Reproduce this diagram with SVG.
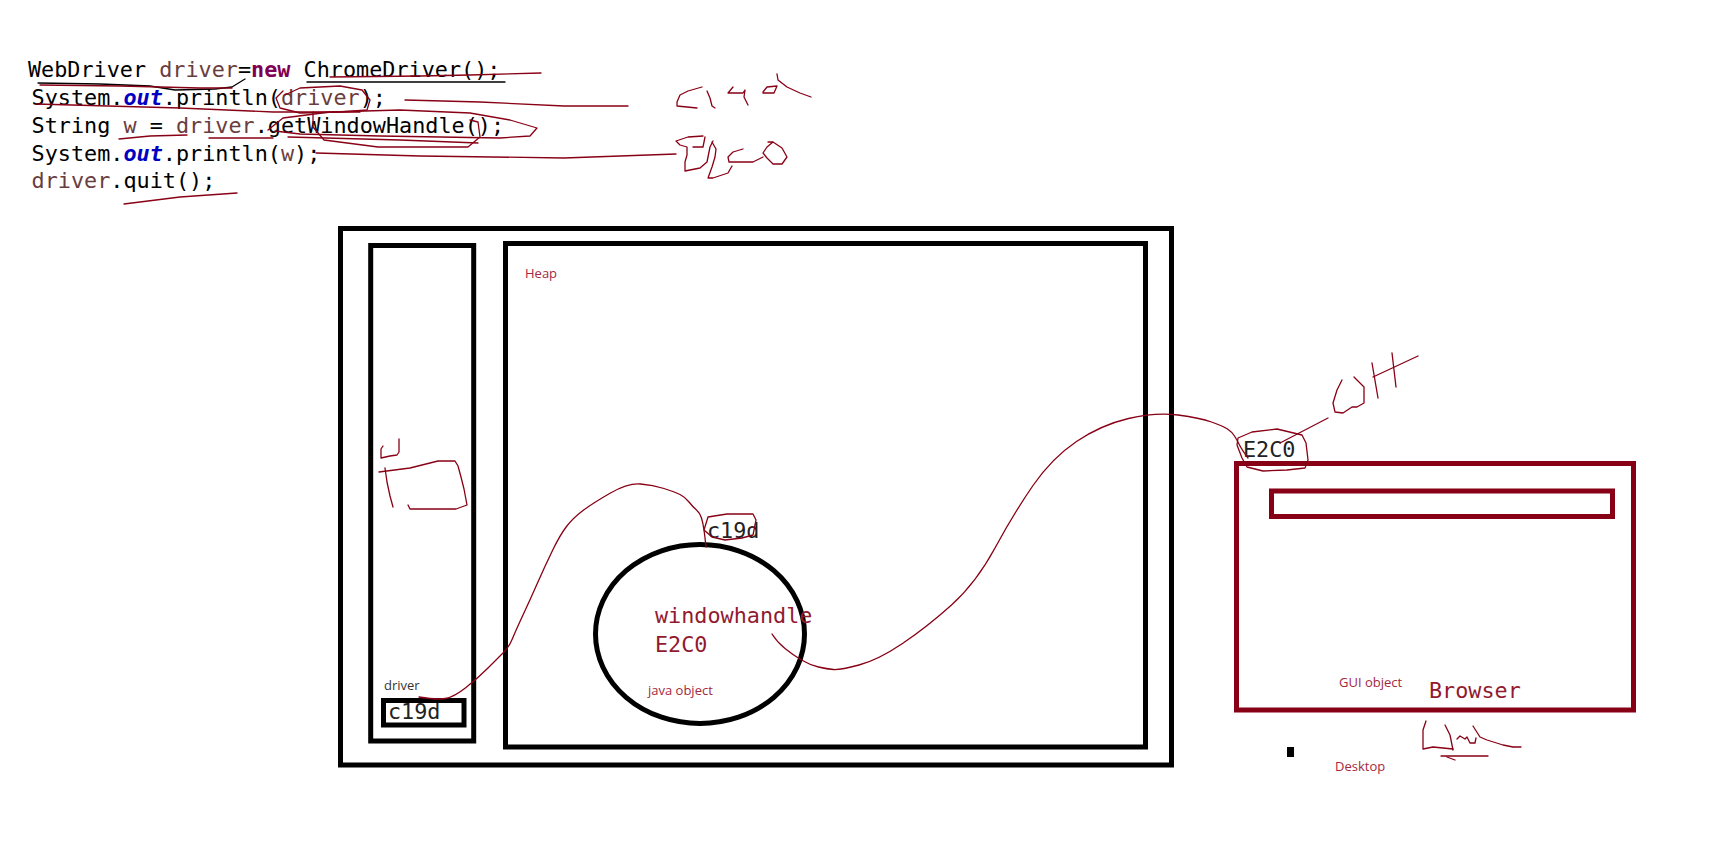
<svg xmlns="http://www.w3.org/2000/svg" width="1710" height="854" viewBox="0 0 1710 854">
<style>
.code{font-family:"DejaVu Sans Mono","Liberation Mono",monospace;font-size:21.8px;fill:#000;white-space:pre}
.var{fill:#6a3e3e}
.kw{fill:#7f0055;font-weight:bold}
.fld{fill:#0000c0;font-weight:bold;font-style:italic}
.mono{font-family:"DejaVu Sans Mono","Liberation Mono",monospace;font-size:21.8px;fill:#222}
.monored{font-family:"DejaVu Sans Mono","Liberation Mono",monospace;font-size:21.8px;fill:#921a30}
.lbl{font-family:"Open Sans","Noto Sans",sans-serif;font-size:13px;fill:#a3283e}
.lblg{font-family:"Open Sans","Noto Sans",sans-serif;font-size:13px;fill:#333}
.box{fill:none;stroke:#000;stroke-width:5}
.rbox{fill:none;stroke:#880015;stroke-width:5}
.ink{fill:none;stroke:#880015;stroke-width:1.3;stroke-linejoin:round;stroke-linecap:round}
.inkb{fill:none;stroke:#000;stroke-width:1.3;stroke-linejoin:round;stroke-linecap:round}
</style>
<rect width="1710" height="854" fill="#fff"/>
<g id="code">
<text class="code" x="28" y="77">WebDriver <tspan class="var">driver</tspan>=<tspan class="kw">new</tspan> ChromeDriver();</text>
<text class="code" x="31.6" y="105">System.<tspan class="fld">out</tspan>.println(<tspan class="var">driver</tspan>);</text>
<text class="code" x="31.6" y="133">String <tspan class="var">w</tspan> = <tspan class="var">driver</tspan>.getWindowHandle();</text>
<text class="code" x="31.6" y="161">System.<tspan class="fld">out</tspan>.println(<tspan class="var">w</tspan>);</text>
<text class="code" x="31.6" y="188"><tspan class="var">driver</tspan>.quit();</text>
</g>
<g id="outer"><rect class="box" x="340.5" y="228.5" width="831" height="536.5"/></g>
<g id="stack"><rect class="box" x="370.7" y="245.5" width="103" height="495.5" stroke-width="4.6"/></g>
<g id="heap"><rect class="box" x="505.5" y="243.5" width="640" height="503.5" stroke-width="4.6"/>
<text class="lbl" x="525" y="278" font-size="12.5">Heap</text></g>
<g id="driver-ref"><rect class="box" x="383.5" y="700.5" width="80.5" height="24.5"/>
<text class="lblg" x="384" y="690">driver</text>
<text class="mono" x="388" y="719">c19d</text></g>
<g id="java-object"><ellipse class="box" cx="700" cy="634" rx="104.5" ry="89.5"/>
<text class="monored" x="655" y="623">windowhandle</text>
<text class="monored" x="655" y="651.7">E2C0</text>
<text class="lbl" x="648" y="695">java object</text>
<text class="mono" x="707" y="538">c19d</text></g>
<g id="browser"><rect class="rbox" x="1236.5" y="463.5" width="397" height="246.5"/>
<rect class="rbox" x="1271.5" y="491" width="341" height="25.5"/>
<text class="lbl" x="1339" y="687">GUI object</text>
<text class="monored" x="1429" y="698">Browser</text>
<text class="mono" x="1243" y="457">E2C0</text></g>
<g id="desktop"><rect x="1287" y="747" width="7" height="10" fill="#000"/>
<text class="lbl" x="1335" y="771">Desktop</text></g>
<g id="connectors">
<path class="ink" d="M419,697 Q437,700 445.5,698.5 Q454,697 466,687.5 Q478,678 488.5,667.5 Q499,657 504,652 Q509,647 512.5,638.5 Q516,630 523,615 Q530,600 537.5,583 Q545,566 552.5,550.5 Q560,535 566.5,526.5 Q573,518 583,510.5 Q593,503 610.5,493 Q628,483 640.5,484 Q653,485 664,488.5 Q675,492 680,494.5 Q685,497 689,502 Q693,507 696.5,510 Q700,513 701.5,518 Q703,523 704,530 Q705,537 706,547"/>
<polyline class="ink" points="704,530 708,517 727,514 753,514 756,520 753,535 742,538 725,540 712,537 704,530"/>
<path class="ink" d="M772,634 Q777,642 785,648.5 Q793,655 801.5,660 Q810,665 818.5,667 Q827,669 833.5,669.5 Q840,670 859,665 Q878,660 902.5,643.5 Q927,627 951.5,605 Q976,583 995,548 Q1014,513 1033,485.5 Q1052,458 1076.5,441.5 Q1101,425 1128.5,418.5 Q1156,412 1178,415 Q1200,418 1211.5,422 Q1223,426 1227.5,429 Q1232,432 1234.5,436 Q1237,440 1239.5,445 Q1242,450 1248,458"/>
<polyline class="ink" points="1237,445 1238,438 1252,432 1277,429 1302,435 1306,443 1308,460 1305,468 1287,470 1263,471 1247,467 1242,458 1237,445"/>
<polyline class="ink" points="1280,443 1328,418"/>
<polyline class="ink" points="1342,380 1337,390 1333,403 1335,412 1343,413 1352,407 1357,407 1364,403 1364,387 1354,377"/>
<polyline class="ink" points="1372,363 1378,398"/>
<polyline class="ink" points="1392,353 1396,387"/>
<polyline class="ink" points="1373,377 1418,356"/>
<polyline class="ink" points="1426,721 1423,730 1423,749 1433,747 1453,749"/>
<polyline class="ink" points="1445,725 1450,735 1453,750"/>
<polyline class="ink" points="1457,739 1460,736 1465,739 1467,737 1470,743 1475,743 1476,738"/>
<polyline class="ink" points="1473,726 1480,737 1487,740 1503,745 1513,747 1521,747"/>
<polyline class="ink" points="1441,756 1488,756"/>
<polyline class="ink" points="1447,757 1455,760"/>
<polyline class="ink" points="383,446 381,449 381,458 390,456 397,455 399,452 399,439"/>
<polyline class="ink" points="379,472 410,468 438,461 455,461 458,466 461,477 464,489 467,505 456,509 410,509 408,505"/>
<polyline class="ink" points="385,468 387,482 390,496 393,507"/>
<polyline class="inkb" points="38,83 100,84 150,86 175,90 215,89 232,87 245,79"/>
<polyline class="inkb" points="307,82 505,82"/>
<polyline class="ink" points="40,85 120,86 200,88 232,88"/>
<polyline class="ink" points="330,77 420,76 470,75 541,73"/>
<polyline class="ink" points="285,95 300,88 340,86 362,90 370,100 367,110 340,112 300,113 280,108 276,98 283,91"/>
<polyline class="ink" points="405,100 480,102 564,106 628,106"/>
<polyline class="ink" points="36,104 180,108 273,112 360,112"/>
<polyline class="ink" points="268,130 283,118 330,112 400,110 470,113 510,120 537,128 530,136 500,138 440,137 380,136 300,134 275,131"/>
<polyline class="ink" points="313,112 313,127 324,140 378,147 468,147 480,137 478,122 470,120"/>
<polyline class="ink" points="119,139 150,136 187,135"/>
<polyline class="ink" points="209,138 273,138"/>
<polyline class="ink" points="288,137 400,140 478,143"/>
<polyline class="ink" points="316,153 420,156 564,158 676,154"/>
<polyline class="ink" points="124,204 180,197 237,193"/>
<polyline class="ink" points="702,87 688,91 680,95 677,102 677,106 687,107 697,108"/>
<polyline class="ink" points="707,91 710,98 712,106 715,108"/>
<polyline class="ink" points="733,87 728,93 743,93 745,90 744,97 748,105"/>
<polyline class="ink" points="763,92 767,87 777,86 774,93 763,93"/>
<polyline class="ink" points="777,74 778,80 787,87 800,93 811,97"/>
<polyline class="ink" points="703,136 688,137 676,141 680,145 687,147 687,155 685,162 685,171 700,168 707,162 710,147 713,141"/>
<polyline class="ink" points="693,147 703,147 705,137"/>
<polyline class="ink" points="712,142 716,149 715,157 712,167 708,178 713,178 728,173 732,166"/>
<polyline class="ink" points="743,149 733,152 728,157 729,162 753,162 763,157"/>
<polyline class="ink" points="768,142 773,142 782,148 787,157 782,164 773,164 767,158 763,153 767,147 773,142"/>
</g>
</svg>
